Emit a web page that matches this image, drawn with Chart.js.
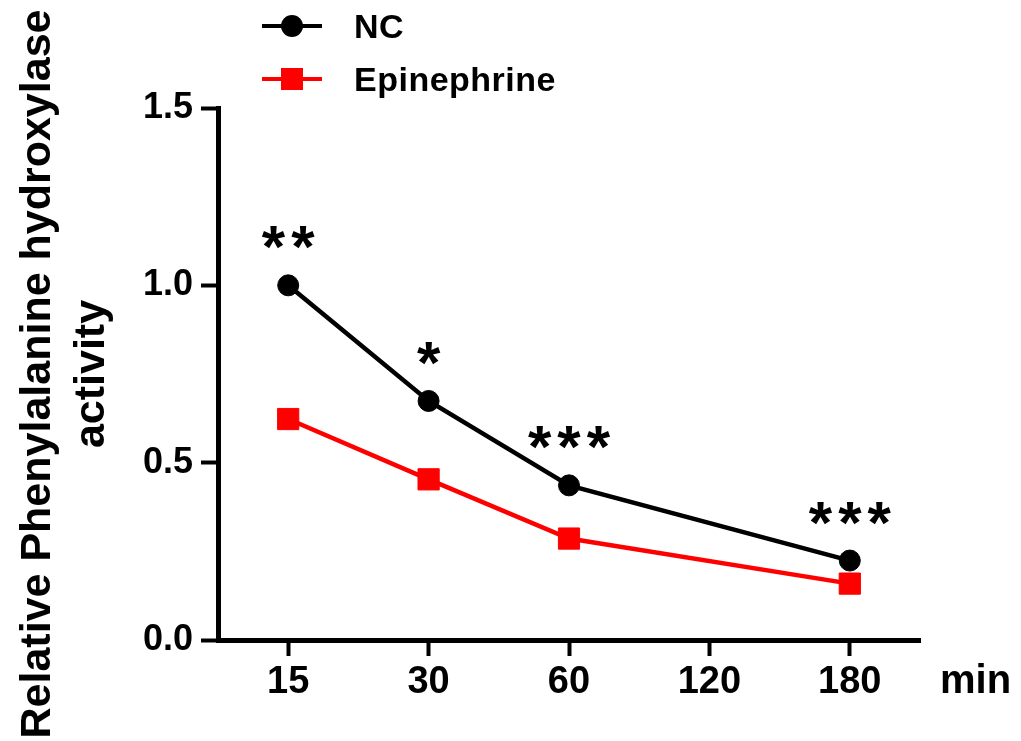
<!DOCTYPE html>
<html>
<head>
<meta charset="utf-8">
<script src="https://cdn.jsdelivr.net/npm/chart.js@4/dist/chart.umd.min.js"></script>
<style>
  body { margin: 0; background: #fff; }
  #wrap { width: 1021px; height: 741px; }
</style>
</head>
<body>
<div id="wrap"><canvas id="chart" width="1021" height="741"></canvas></div>
<script>
// data
const timePoints = ['15', '30', '60', '120', '180'];
const ncValues = [1.0, 0.674, 0.436, null, 0.224];
const epiValues = [0.623, 0.453, 0.286, null, 0.159];
const sigMarks = ['**', '*', '***', '', '***'];
const yTicks = [0, 0.5, 1.0, 1.5];

const FONT = "'Liberation Sans', Arial, sans-serif";

// legend drawn as line + marker like the original figure
const lineLegend = {
  id: 'lineLegend',
  afterDraw(chart) {
    const ctx = chart.ctx;
    const rows = [26, 79];
    chart.data.datasets.forEach((ds, i) => {
      const y = rows[i];
      ctx.save();
      ctx.strokeStyle = ds.borderColor;
      ctx.lineWidth = 4;
      ctx.beginPath();
      ctx.moveTo(262, y);
      ctx.lineTo(322, y);
      ctx.stroke();
      ctx.fillStyle = ds.pointBackgroundColor;
      if (ds.pointStyle === 'rect') {
        ctx.fillRect(292 - 11, y - 11, 22, 22);
      } else {
        ctx.beginPath();
        ctx.arc(292, y, 11, 0, Math.PI * 2);
        ctx.fill();
      }
      ctx.fillStyle = '#000';
      ctx.font = 'bold 34px ' + FONT;
      ctx.letterSpacing = '0.5px';
      ctx.textBaseline = 'middle';
      ctx.textAlign = 'left';
      ctx.fillText(ds.label, 354, y + 3);
      ctx.restore();
    });
  }
};

// significance stars above NC points, and the "min" unit
const extras = {
  id: 'extras',
  afterDatasetsDraw(chart) {
    const ctx = chart.ctx;
    const xs = chart.scales.x, ys = chart.scales.y;
    ctx.save();
    ctx.fillStyle = '#000';
    ctx.font = 'bold 60px ' + FONT;
    ctx.letterSpacing = '6px';
    ctx.textAlign = 'center';
    ctx.textBaseline = 'alphabetic';
    sigMarks.forEach((m, i) => {
      if (!m || ncValues[i] == null) return;
      const x = xs.getPixelForValue(i) + 3;
      const y = ys.getPixelForValue(ncValues[i]) - 18;
      ctx.fillText(m, x, y);
    });
    ctx.letterSpacing = '0px';
    ctx.font = 'bold 40px ' + FONT;
    ctx.textAlign = 'left';
    ctx.fillText('min', chart.chartArea.right + 20, chart.chartArea.bottom + 53);
    ctx.restore();
  }
};

new Chart(document.getElementById('chart'), {
  type: 'line',
  data: {
    labels: timePoints,
    datasets: [{
      label: 'NC',
      data: ncValues,
      borderColor: '#000',
      backgroundColor: '#000',
      pointBackgroundColor: '#000',
      pointBorderColor: '#000',
      pointStyle: 'circle',
      pointRadius: 10.5,
      pointBorderWidth: 1,
      borderWidth: 4.5,
      spanGaps: true
    }, {
      label: 'Epinephrine',
      data: epiValues,
      borderColor: '#ff0000',
      backgroundColor: '#ff0000',
      pointBackgroundColor: '#ff0000',
      pointBorderColor: '#ff0000',
      pointStyle: 'rect',
      pointRadius: 15,
      pointBorderWidth: 1,
      borderWidth: 4.5,
      spanGaps: true
    }]
  },
  options: {
    responsive: false,
    animation: false,
    layout: { padding: { left: 0, top: 108, right: 101, bottom: 0 } },
    plugins: { legend: { display: false }, tooltip: { enabled: false } },
    scales: {
      x: {
        type: 'category',
        offset: true,
        grid: { drawOnChartArea: false, tickLength: 16, tickWidth: 4, tickColor: '#000', offset: false },
        border: { color: '#000', width: 5 },
        ticks: { color: '#000', padding: 4, font: { family: FONT, size: 38, weight: 'bold' }, maxRotation: 0 },
        afterFit(scale) { scale.height = 101; }
      },
      y: {
        min: 0,
        max: 1.5,
        afterBuildTicks(scale) { scale.ticks = yTicks.map(v => ({ value: v })); },
        grid: { drawOnChartArea: false, tickLength: 17, tickWidth: 4, tickColor: '#000' },
        border: { color: '#000', width: 5 },
        ticks: {
          color: '#000', padding: 8,
          font: { family: FONT, size: 36, weight: 'bold' },
          callback: v => Number(v).toFixed(1)
        },
        title: {
          display: true,
          text: ['Relative Phenylalanine hydroxylase', 'activity'],
          color: '#000',
          font: { family: FONT, size: 43, weight: 'bold', lineHeight: 1.26 },
          padding: { top: 11, bottom: 0 }
        },
        afterFit(scale) { scale.width = 218; }
      }
    }
  },
  plugins: [lineLegend, extras]
});
</script>
</body>
</html>
